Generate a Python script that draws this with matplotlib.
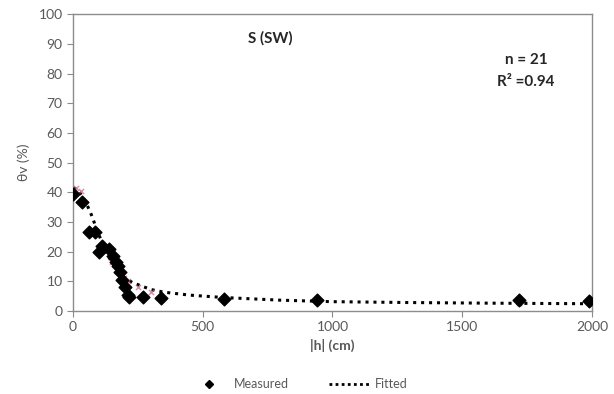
import matplotlib.pyplot as plt
from matplotlib.lines import Line2D

plt.rcParams['font.family'] = ['Lato', 'DejaVu Sans']

# Measured points (|h| in cm, theta_v in %)
h_measured = [0, 33, 60, 85, 100, 110, 140, 155, 165, 172, 180, 190, 200, 210, 215,
              270, 340, 580, 940, 1720, 1990]
theta_measured = [39.5, 36.7, 26.5, 26.5, 19.8, 22.0, 21.0, 18.5, 16.5, 15.0, 13.0,
                  10.5, 8.0, 5.5, 4.8, 4.7, 4.5, 4.0, 3.5, 3.5, 3.3]

# Fitted curve
h_fitted = [0, 20, 40, 55, 70, 85, 100, 115, 130, 145, 160, 180, 200, 230, 260,
            300, 350, 450, 580, 800, 1000, 1300, 1600, 2000]
theta_fitted = [41.5, 40.5, 38.0, 35.5, 32.5, 29.0, 25.5, 22.5, 19.5, 17.0, 15.0,
                12.8, 11.0, 9.5, 8.5, 7.2, 6.3, 5.3, 4.5, 3.6, 3.1, 2.8, 2.6, 2.4]

# Pinkish fitted-value marks at some measured points
h_marks = [10, 30, 150, 170, 195, 210, 250, 300, 940, 1720, 1990]
theta_marks = [41.5, 40.5, 16.5, 13.5, 11.0, 10.0, 8.0, 6.5, 3.0, 2.7, 2.5]

fig = plt.figure(figsize=(6.14, 3.94), dpi=100)
ax = fig.add_axes([0.119, 0.211, 0.845, 0.753])

grey = '#8c8c8c'
text_col = '#595959'

ax.plot(h_fitted, theta_fitted, linestyle=(0, (1, 1.6)), color='black', linewidth=2.2, zorder=2)
ax.scatter(h_marks, theta_marks, marker='x', color='#c06080', s=14, linewidths=1, alpha=0.7, zorder=3)
ax.scatter(h_measured, theta_measured, marker='D', color='black', s=42, zorder=4)

ax.set_xlim(0, 2000)
ax.set_ylim(0, 100)
ax.set_xticks([0, 500, 1000, 1500, 2000])
ax.set_yticks(range(0, 101, 10))

for s in ax.spines.values():
    s.set_color(grey)
    s.set_linewidth(1)
ax.tick_params(colors=grey, labelcolor=text_col, labelsize=10, length=4, direction='out')

ax.set_xlabel('|h| (cm)', fontweight='bold', color=text_col, fontsize=10)
ax.set_ylabel('θv (%)', color=text_col, fontsize=10, labelpad=6)

ax.text(0.38, 0.92, 'S (SW)', transform=ax.transAxes, fontweight='bold',
        fontsize=11, color='#262626', ha='center', va='center')
ax.text(0.873, 0.845, 'n = 21', transform=ax.transAxes, fontweight='bold',
        fontsize=11, color='#262626', ha='center', va='center')
ax.text(0.873, 0.771, 'R² =0.94', transform=ax.transAxes, fontweight='bold',
        fontsize=11, color='#262626', ha='center', va='center')

handles = [
    Line2D([], [], marker='D', color='black', linestyle='none', markersize=4),
    Line2D([], [], linestyle=(0, (1, 1.2)), color='black', linewidth=2),
]
fig.legend(handles, ['Measured', 'Fitted'], loc='center', bbox_to_anchor=(0.485, 0.025),
           ncol=2, frameon=False, fontsize=9, handlelength=3.4, handletextpad=0.3,
           columnspacing=3.2, labelcolor=text_col)

fig.savefig('out.png', dpi=100)
